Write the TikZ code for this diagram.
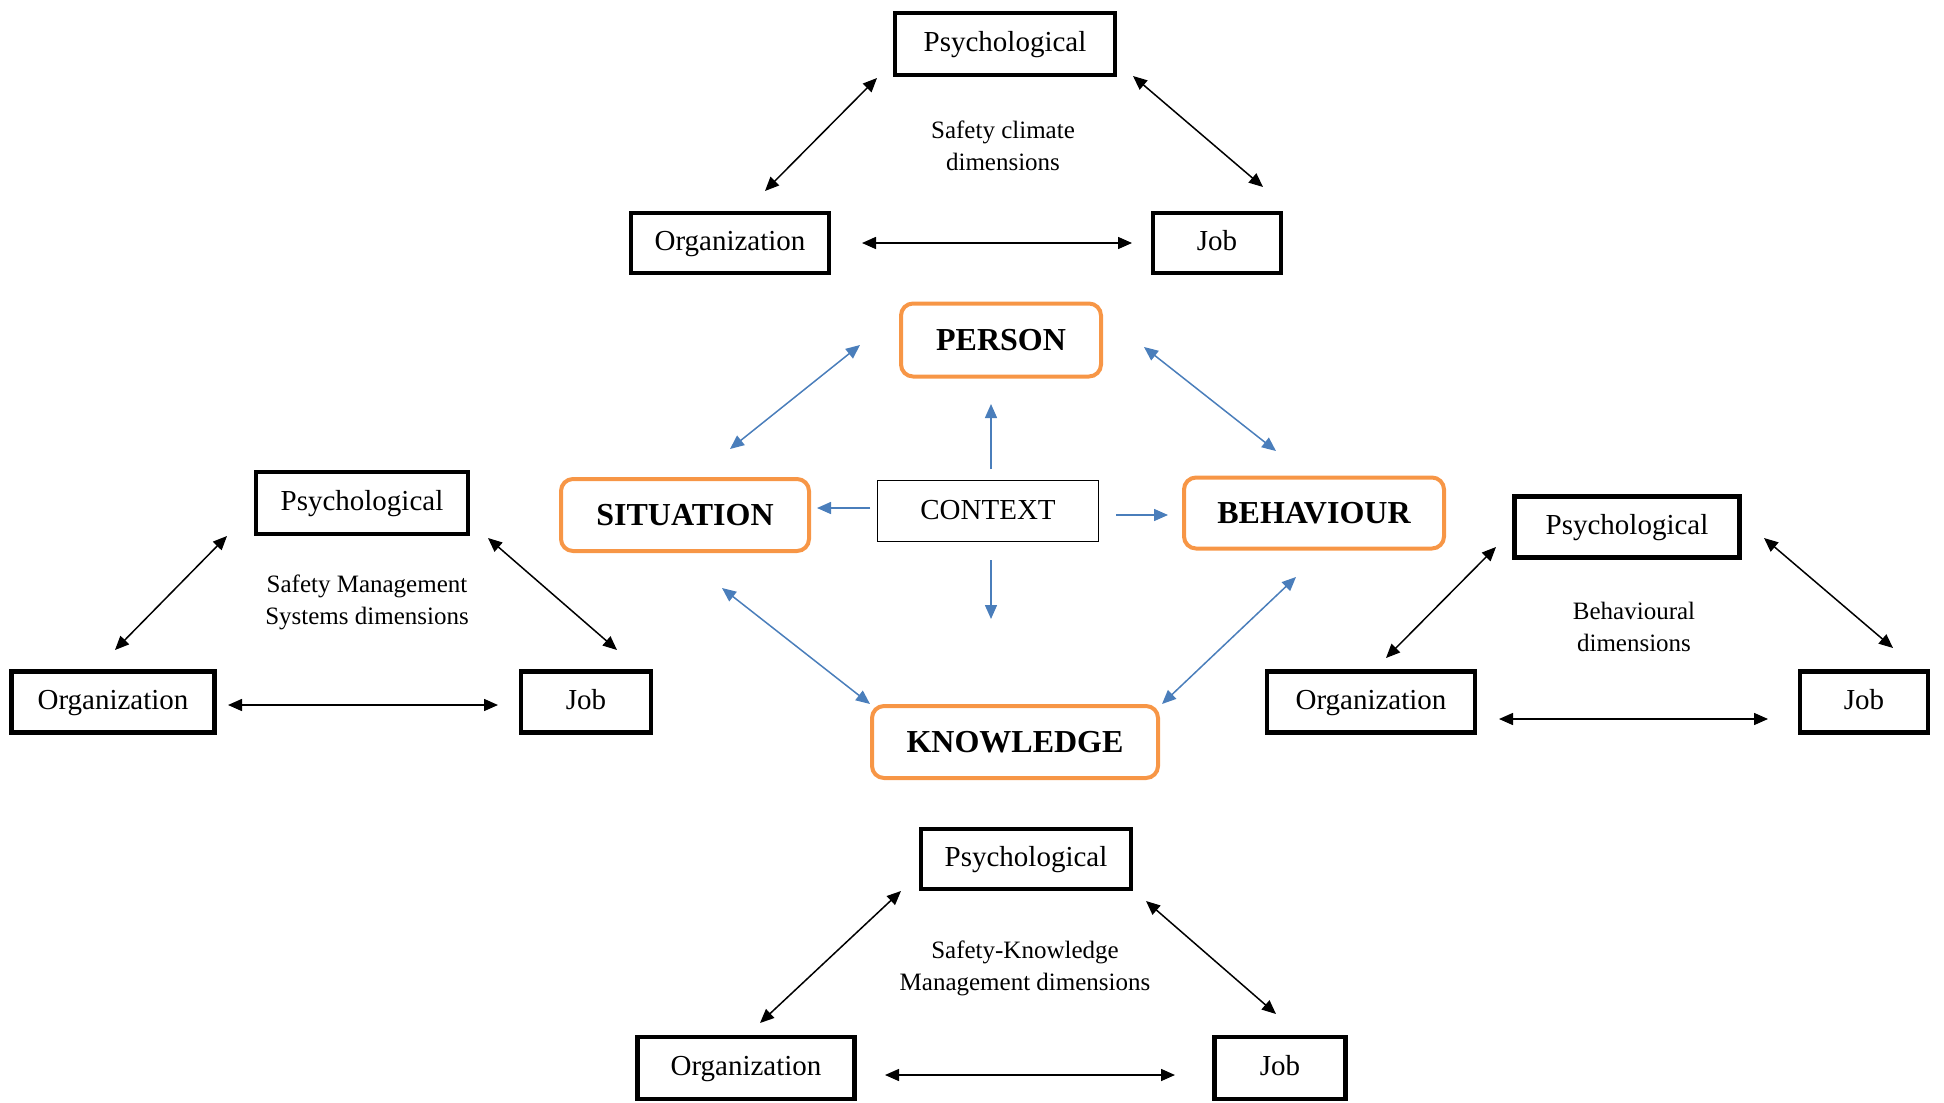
\documentclass[tikz,border=0pt]{standalone}
\usepackage{fontspec}
\setmainfont{Liberation Serif}
\usetikzlibrary{arrows.meta,calc}
\definecolor{ctxorange}{HTML}{F79646}
\definecolor{linkblue}{HTML}{4A7EBB}
\begin{document}
\begin{tikzpicture}[x=0.5pt,y=-0.5pt,
  dimbox/.style={draw=black,line width=2.2pt,minimum height=30.5pt,inner sep=0pt,
    text height=10.5pt,text depth=3pt,font=\fontsize{14.5}{17}\selectfont},
  corebox/.style={draw=ctxorange,line width=2pt,rounded corners=6pt,minimum height=36pt,
    inner sep=0pt,text height=11pt,text depth=1pt,font=\fontsize{16}{19}\selectfont\bfseries},
  ctxbox/.style={draw=black,line width=0.75pt,inner sep=0pt,minimum width=110.5pt,
    minimum height=30.5pt,text height=10pt,text depth=2pt,font=\fontsize{14.5}{17}\selectfont},
  dimlabel/.style={align=center,font=\fontsize{12.5}{16}\selectfont},
  blk/.style={line width=0.75pt,{Triangle[length=7pt,width=6pt]}-{Triangle[length=7pt,width=6pt]}},
  blu/.style={draw=linkblue,line width=0.75pt},
  bluetip/.style={-{Triangle[length=7pt,width=6pt]}},
  bluetwo/.style={{Triangle[length=7pt,width=6pt]}-{Triangle[length=7pt,width=6pt]}}
]
\useasboundingbox (0,0) rectangle (1944,1103);

% ---- core model ----
\node[corebox,minimum width=100pt,minimum height=36.5pt] (person) at (1001,340) {PERSON};
\node[corebox,minimum width=124pt] (sit) at (685,515) {SITUATION};
\node[corebox,minimum width=130pt,minimum height=35.5pt] (beh) at (1314,513) {BEHAVIOUR};
\node[corebox,minimum width=143pt] (know) at (1015,742) {KNOWLEDGE};
\node[ctxbox] (ctx) at (988,511) {CONTEXT};

\draw[blu,bluetip] ($(ctx)+(3,-42)$) -- ($(person)+(-10,64)$);
\draw[blu,bluetip] ($(ctx)+(3,49)$) -- ($(know)+(-24,-123)$);
\draw[blu,bluetip] ($(ctx)+(-118,-3)$) -- ($(sit)+(132,-7)$);
\draw[blu,bluetip] ($(ctx)+(128,4)$) -- ($(beh)+(-146,2)$);
\draw[blu,bluetwo] ($(sit)+(45,-66)$) -- ($(person)+(-141,5)$);
\draw[blu,bluetwo] ($(person)+(143,7)$) -- ($(beh)+(-38,-62)$);
\draw[blu,bluetwo] ($(sit)+(37,73)$) -- ($(know)+(-145,-38)$);
\draw[blu,bluetwo] ($(beh)+(-18,64)$) -- ($(know)+(147,-38)$);

% ---- safety climate (top) ----
\node[dimbox,minimum width=110pt,minimum height=31pt] (p1) at (1005,44) {Psychological};
\node[dimbox,minimum width=99pt,minimum height=30pt] (o1) at (730,243) {Organization};
\node[dimbox,minimum width=64pt,minimum height=30pt] (j1) at (1217,243) {Job};
\node[dimlabel] (t1) at (1003,146) {Safety climate\\dimensions};
\draw[blk] ($(o1)+(35,-52)$) -- ($(p1)+(-128,34)$);
\draw[blk] ($(p1)+(128,32)$) -- ($(j1)+(46,-56)$);
\draw[blk] ($(o1)+(132,0)$) -- ($(j1)+(-85,0)$);

% ---- safety management systems (left) ----
\node[dimbox,minimum width=106pt,minimum height=31pt] (p2) at (362,503) {Psychological};
\node[dimbox,minimum width=101.5pt] (o2) at (113,702) {Organization};
\node[dimbox,minimum width=65pt] (j2) at (586,702) {Job};
\node[dimlabel] (t2) at (367,602) {Safety Management\\Systems dimensions};
\draw[blk] ($(o2)+(2,-52)$) -- ($(p2)+(-135,33)$);
\draw[blk] ($(p2)+(126,35)$) -- ($(j2)+(31,-52)$);
\draw[blk] ($(o2)+(115,3)$) -- ($(j2)+(-88,3)$);

% ---- behavioural (right) ----
\node[dimbox,minimum width=112.5pt] (p3) at (1627,527) {Psychological};
\node[dimbox,minimum width=104pt] (o3) at (1371,702) {Organization};
\node[dimbox,minimum width=64pt] (j3) at (1864,702) {Job};
\node[dimlabel] (t3) at (1634,627) {Behavioural\\dimensions};
\draw[blk] ($(o3)+(15,-44)$) -- ($(p3)+(-131,20)$);
\draw[blk] ($(p3)+(137,11)$) -- ($(j3)+(29,-54)$);
\draw[blk] ($(o3)+(128,17)$) -- ($(j3)+(-96,17)$);

% ---- safety-knowledge management (bottom) ----
\node[dimbox,minimum width=105pt,minimum height=30pt] (p4) at (1026,859) {Psychological};
\node[dimbox,minimum width=108.5pt,minimum height=31pt] (o4) at (746,1068) {Organization};
\node[dimbox,minimum width=65.5pt,minimum height=31pt] (j4) at (1280,1068) {Job};
\node[dimlabel] (t4) at (1025,968) {Safety-Knowledge\\Management dimensions};
\draw[blk] ($(o4)+(14,-45)$) -- ($(p4)+(-125,32)$);
\draw[blk] ($(p4)+(120,42)$) -- ($(j4)+(-4,-54)$);
\draw[blk] ($(o4)+(139,7)$) -- ($(j4)+(-105,7)$);
\end{tikzpicture}
\end{document}
